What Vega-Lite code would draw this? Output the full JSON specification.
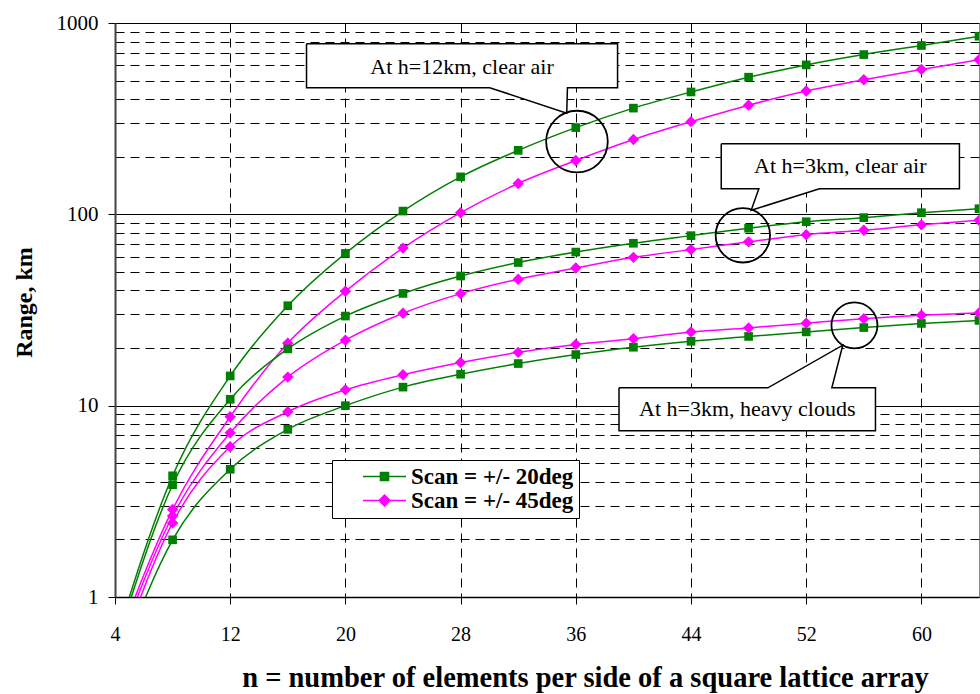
{
  "$schema": "https://vega.github.io/schema/vega-lite/v6.json",
  "autosize": {"type": "none"},
  "width": 864,
  "height": 574,
  "padding": {"left": 115, "top": 23, "right": 1, "bottom": 97},
  "background": "white",
  "config": {
    "font": "Liberation Serif",
    "view": {"stroke": "#888", "strokeWidth": 1}
  },
  "datasets": {
    "series": [
      {"n": 4, "v": 0.58, "series": "A", "scan": "Scan = +/- 20deg"},
      {"n": 8, "v": 4.30, "series": "A", "scan": "Scan = +/- 20deg"},
      {"n": 12, "v": 14.3, "series": "A", "scan": "Scan = +/- 20deg"},
      {"n": 16, "v": 33.3, "series": "A", "scan": "Scan = +/- 20deg"},
      {"n": 20, "v": 62.5, "series": "A", "scan": "Scan = +/- 20deg"},
      {"n": 24, "v": 104, "series": "A", "scan": "Scan = +/- 20deg"},
      {"n": 28, "v": 157, "series": "A", "scan": "Scan = +/- 20deg"},
      {"n": 32, "v": 216, "series": "A", "scan": "Scan = +/- 20deg"},
      {"n": 36, "v": 284, "series": "A", "scan": "Scan = +/- 20deg"},
      {"n": 40, "v": 359, "series": "A", "scan": "Scan = +/- 20deg"},
      {"n": 44, "v": 436, "series": "A", "scan": "Scan = +/- 20deg"},
      {"n": 48, "v": 521, "series": "A", "scan": "Scan = +/- 20deg"},
      {"n": 52, "v": 604, "series": "A", "scan": "Scan = +/- 20deg"},
      {"n": 56, "v": 684, "series": "A", "scan": "Scan = +/- 20deg"},
      {"n": 60, "v": 763, "series": "A", "scan": "Scan = +/- 20deg"},
      {"n": 64, "v": 853, "series": "A", "scan": "Scan = +/- 20deg"},
      {"n": 4, "v": 0.53, "series": "B", "scan": "Scan = +/- 45deg"},
      {"n": 8, "v": 2.87, "series": "B", "scan": "Scan = +/- 45deg"},
      {"n": 12, "v": 8.75, "series": "B", "scan": "Scan = +/- 45deg"},
      {"n": 16, "v": 21.2, "series": "B", "scan": "Scan = +/- 45deg"},
      {"n": 20, "v": 39.6, "series": "B", "scan": "Scan = +/- 45deg"},
      {"n": 24, "v": 66.6, "series": "B", "scan": "Scan = +/- 45deg"},
      {"n": 28, "v": 102, "series": "B", "scan": "Scan = +/- 45deg"},
      {"n": 32, "v": 145, "series": "B", "scan": "Scan = +/- 45deg"},
      {"n": 36, "v": 191, "series": "B", "scan": "Scan = +/- 45deg"},
      {"n": 40, "v": 246, "series": "B", "scan": "Scan = +/- 45deg"},
      {"n": 44, "v": 305, "series": "B", "scan": "Scan = +/- 45deg"},
      {"n": 48, "v": 372, "series": "B", "scan": "Scan = +/- 45deg"},
      {"n": 52, "v": 441, "series": "B", "scan": "Scan = +/- 45deg"},
      {"n": 56, "v": 505, "series": "B", "scan": "Scan = +/- 45deg"},
      {"n": 60, "v": 571, "series": "B", "scan": "Scan = +/- 45deg"},
      {"n": 64, "v": 643, "series": "B", "scan": "Scan = +/- 45deg"},
      {"n": 4, "v": 0.54, "series": "C", "scan": "Scan = +/- 20deg"},
      {"n": 8, "v": 3.86, "series": "C", "scan": "Scan = +/- 20deg"},
      {"n": 12, "v": 10.8, "series": "C", "scan": "Scan = +/- 20deg"},
      {"n": 16, "v": 19.8, "series": "C", "scan": "Scan = +/- 20deg"},
      {"n": 20, "v": 29.4, "series": "C", "scan": "Scan = +/- 20deg"},
      {"n": 24, "v": 38.6, "series": "C", "scan": "Scan = +/- 20deg"},
      {"n": 28, "v": 47.6, "series": "C", "scan": "Scan = +/- 20deg"},
      {"n": 32, "v": 56.0, "series": "C", "scan": "Scan = +/- 20deg"},
      {"n": 36, "v": 63.5, "series": "C", "scan": "Scan = +/- 20deg"},
      {"n": 40, "v": 70.6, "series": "C", "scan": "Scan = +/- 20deg"},
      {"n": 44, "v": 77.4, "series": "C", "scan": "Scan = +/- 20deg"},
      {"n": 48, "v": 84.6, "series": "C", "scan": "Scan = +/- 20deg"},
      {"n": 52, "v": 91.5, "series": "C", "scan": "Scan = +/- 20deg"},
      {"n": 56, "v": 96.1, "series": "C", "scan": "Scan = +/- 20deg"},
      {"n": 60, "v": 102, "series": "C", "scan": "Scan = +/- 20deg"},
      {"n": 64, "v": 107, "series": "C", "scan": "Scan = +/- 20deg"},
      {"n": 4, "v": 0.49, "series": "D", "scan": "Scan = +/- 45deg"},
      {"n": 8, "v": 2.65, "series": "D", "scan": "Scan = +/- 45deg"},
      {"n": 12, "v": 7.21, "series": "D", "scan": "Scan = +/- 45deg"},
      {"n": 16, "v": 14.1, "series": "D", "scan": "Scan = +/- 45deg"},
      {"n": 20, "v": 22.0, "series": "D", "scan": "Scan = +/- 45deg"},
      {"n": 24, "v": 30.4, "series": "D", "scan": "Scan = +/- 45deg"},
      {"n": 28, "v": 38.5, "series": "D", "scan": "Scan = +/- 45deg"},
      {"n": 32, "v": 45.8, "series": "D", "scan": "Scan = +/- 45deg"},
      {"n": 36, "v": 52.4, "series": "D", "scan": "Scan = +/- 45deg"},
      {"n": 40, "v": 59.6, "series": "D", "scan": "Scan = +/- 45deg"},
      {"n": 44, "v": 65.4, "series": "D", "scan": "Scan = +/- 45deg"},
      {"n": 48, "v": 71.8, "series": "D", "scan": "Scan = +/- 45deg"},
      {"n": 52, "v": 78.3, "series": "D", "scan": "Scan = +/- 45deg"},
      {"n": 56, "v": 82.5, "series": "D", "scan": "Scan = +/- 45deg"},
      {"n": 60, "v": 88.1, "series": "D", "scan": "Scan = +/- 45deg"},
      {"n": 64, "v": 93.0, "series": "D", "scan": "Scan = +/- 45deg"},
      {"n": 4, "v": 0.39, "series": "E", "scan": "Scan = +/- 20deg"},
      {"n": 8, "v": 1.99, "series": "E", "scan": "Scan = +/- 20deg"},
      {"n": 12, "v": 4.65, "series": "E", "scan": "Scan = +/- 20deg"},
      {"n": 16, "v": 7.52, "series": "E", "scan": "Scan = +/- 20deg"},
      {"n": 20, "v": 10.0, "series": "E", "scan": "Scan = +/- 20deg"},
      {"n": 24, "v": 12.5, "series": "E", "scan": "Scan = +/- 20deg"},
      {"n": 28, "v": 14.6, "series": "E", "scan": "Scan = +/- 20deg"},
      {"n": 32, "v": 16.6, "series": "E", "scan": "Scan = +/- 20deg"},
      {"n": 36, "v": 18.5, "series": "E", "scan": "Scan = +/- 20deg"},
      {"n": 40, "v": 20.2, "series": "E", "scan": "Scan = +/- 20deg"},
      {"n": 44, "v": 21.7, "series": "E", "scan": "Scan = +/- 20deg"},
      {"n": 48, "v": 23.0, "series": "E", "scan": "Scan = +/- 20deg"},
      {"n": 52, "v": 24.3, "series": "E", "scan": "Scan = +/- 20deg"},
      {"n": 56, "v": 25.6, "series": "E", "scan": "Scan = +/- 20deg"},
      {"n": 60, "v": 26.9, "series": "E", "scan": "Scan = +/- 20deg"},
      {"n": 64, "v": 27.9, "series": "E", "scan": "Scan = +/- 20deg"},
      {"n": 4, "v": 0.43, "series": "F", "scan": "Scan = +/- 45deg"},
      {"n": 8, "v": 2.44, "series": "F", "scan": "Scan = +/- 45deg"},
      {"n": 12, "v": 6.10, "series": "F", "scan": "Scan = +/- 45deg"},
      {"n": 16, "v": 9.29, "series": "F", "scan": "Scan = +/- 45deg"},
      {"n": 20, "v": 12.1, "series": "F", "scan": "Scan = +/- 45deg"},
      {"n": 24, "v": 14.5, "series": "F", "scan": "Scan = +/- 45deg"},
      {"n": 28, "v": 16.8, "series": "F", "scan": "Scan = +/- 45deg"},
      {"n": 32, "v": 19.0, "series": "F", "scan": "Scan = +/- 45deg"},
      {"n": 36, "v": 20.9, "series": "F", "scan": "Scan = +/- 45deg"},
      {"n": 40, "v": 22.4, "series": "F", "scan": "Scan = +/- 45deg"},
      {"n": 44, "v": 24.3, "series": "F", "scan": "Scan = +/- 45deg"},
      {"n": 48, "v": 25.5, "series": "F", "scan": "Scan = +/- 45deg"},
      {"n": 52, "v": 27.0, "series": "F", "scan": "Scan = +/- 45deg"},
      {"n": 56, "v": 28.5, "series": "F", "scan": "Scan = +/- 45deg"},
      {"n": 60, "v": 29.7, "series": "F", "scan": "Scan = +/- 45deg"},
      {"n": 64, "v": 30.5, "series": "F", "scan": "Scan = +/- 45deg"}
    ],
    "callouts": [
      {"box": "b1", "o": 1, "n": 17.3, "v": 778},
      {"box": "b1", "o": 2, "n": 38.9, "v": 778},
      {"box": "b1", "o": 3, "n": 38.9, "v": 459},
      {"box": "b1", "o": 4, "n": 35.42, "v": 459},
      {"box": "b1", "o": 5, "n": 35.37, "v": 338},
      {"box": "b1", "o": 6, "n": 30.02, "v": 459},
      {"box": "b1", "o": 7, "n": 17.3, "v": 459},
      {"box": "b1", "o": 8, "n": 17.3, "v": 778},
      {"box": "b2", "o": 1, "n": 46.1, "v": 234},
      {"box": "b2", "o": 2, "n": 62.64, "v": 234},
      {"box": "b2", "o": 3, "n": 62.64, "v": 136.2},
      {"box": "b2", "o": 4, "n": 52.92, "v": 136.2},
      {"box": "b2", "o": 5, "n": 48.18, "v": 105},
      {"box": "b2", "o": 6, "n": 48.71, "v": 136.2},
      {"box": "b2", "o": 7, "n": 46.1, "v": 136.2},
      {"box": "b2", "o": 8, "n": 46.1, "v": 234},
      {"box": "b3", "o": 1, "n": 39.0, "v": 12.39},
      {"box": "b3", "o": 2, "n": 49.34, "v": 12.39},
      {"box": "b3", "o": 3, "n": 54.54, "v": 20.7},
      {"box": "b3", "o": 4, "n": 53.78, "v": 12.39},
      {"box": "b3", "o": 5, "n": 56.81, "v": 12.39},
      {"box": "b3", "o": 6, "n": 56.81, "v": 7.39},
      {"box": "b3", "o": 7, "n": 39.0, "v": 7.39},
      {"box": "b3", "o": 8, "n": 39.0, "v": 12.39}
    ],
    "labels": [
      {"n": 28.1, "v": 590, "text": "At h=12km, clear air"},
      {"n": 54.37, "v": 178.5, "text": "At h=3km, clear air"},
      {"n": 47.91, "v": 9.56, "text": "At h=3km, heavy clouds"}
    ],
    "circles": [
      {"id": "c1", "n": 36.08, "v": 240},
      {"id": "c2", "n": 47.6, "v": 77.7},
      {"id": "c3", "n": 55.35, "v": 26.3}
    ]
  },
  "layer": [
    {
      "data": {"name": "series"},
      "mark": {"type": "line", "interpolate": "monotone", "strokeWidth": 1.5, "clip": true},
      "encoding": {
        "x": {
          "field": "n", "type": "quantitative",
          "scale": {"domain": [4, 64], "nice": false, "zero": false},
          "axis": {
            "values": [4, 12, 20, 28, 36, 44, 52, 60],
            "title": "n = number of elements per side of a square lattice array",
            "titleFont": "Liberation Serif", "titleFontSize": 28.5, "titleFontWeight": "bold", "titleColor": "black",
            "titleX": 470, "titleY": 89, "titleBaseline": "alphabetic", "titleAlign": "center",
            "labelFont": "Liberation Serif", "labelFontSize": 20, "labelColor": "black", "labelPadding": 20,
            "labelOverlap": false, "labelFlush": false,
            "tickSize": 7, "tickColor": "black", "tickWidth": 1,
            "domainColor": "black", "domainWidth": 1.5,
            "grid": true, "gridColor": "black", "gridDash": [9, 6], "gridWidth": 1
          }
        },
        "y": {
          "field": "v", "type": "quantitative",
          "scale": {"type": "log", "domain": [1, 1000], "nice": false},
          "axis": {
            "values": [1, 2, 3, 4, 5, 6, 7, 8, 9, 10, 20, 30, 40, 50, 60, 70, 80, 90, 100, 200, 300, 400, 500, 600, 700, 800, 900, 1000],
            "labelExpr": "(datum.value == 1 || datum.value == 10 || datum.value == 100 || datum.value == 1000) ? ('' + datum.value) : ''",
            "title": "Range, km",
            "titleFont": "Liberation Serif", "titleFontSize": 24, "titleFontWeight": "bold", "titleColor": "black",
            "titleX": -84, "titleY": 279, "titleBaseline": "alphabetic", "titleAlign": "center", "titleAngle": -90,
            "labelFont": "Liberation Serif", "labelFontSize": 21, "labelColor": "black", "labelPadding": 10,
            "labelOverlap": false, "labelFlush": false,
            "tickSize": 7, "tickColor": "black",
            "tickOpacity": {"condition": {"test": "datum.value == 1 || datum.value == 10 || datum.value == 100 || datum.value == 1000", "value": 1}, "value": 0},
            "domainColor": "#444", "domainWidth": 2,
            "grid": true, "gridColor": "black", "gridWidth": 1,
            "gridDash": {"condition": {"test": "datum.value == 1 || datum.value == 10 || datum.value == 100 || datum.value == 1000", "value": []}, "value": [9, 6]}
          }
        },
        "color": {
          "field": "scan", "type": "nominal",
          "scale": {"domain": ["Scan = +/- 20deg", "Scan = +/- 45deg"], "range": ["#008000", "#FF00FF"]},
          "legend": null
        },
        "detail": {"field": "series"}
      }
    },
    {
      "data": {"name": "series"},
      "mark": {"type": "point", "filled": true, "opacity": 1, "clip": true},
      "encoding": {
        "x": {"field": "n", "type": "quantitative"},
        "y": {"field": "v", "type": "quantitative"},
        "color": {"field": "scan", "type": "nominal", "scale": {"domain": ["Scan = +/- 20deg", "Scan = +/- 45deg"], "range": ["#008000", "#FF00FF"]}, "legend": null},
        "shape": {"field": "scan", "type": "nominal", "scale": {"domain": ["Scan = +/- 20deg", "Scan = +/- 45deg"], "range": ["square", "diamond"]}, "legend": null},
        "size": {"field": "scan", "type": "nominal", "scale": {"domain": ["Scan = +/- 20deg", "Scan = +/- 45deg"], "range": [75, 130]}, "legend": null}
      }
    },
    {
      "data": {"name": "series"},
      "transform": [{"filter": "false"}],
      "mark": {"type": "point", "filled": true, "opacity": 1},
      "encoding": {
        "x": {"field": "n", "type": "quantitative"},
        "y": {"field": "v", "type": "quantitative"},
        "color": {
          "field": "scan", "type": "nominal",
          "scale": {"domain": ["Scan = +/- 20deg", "Scan = +/- 45deg"], "range": ["#008000", "#FF00FF"]},
          "legend": {
            "orient": "none", "legendX": 217, "legendY": 437, "title": null, "direction": "vertical",
            "fillColor": "white", "strokeColor": "black", "padding": 5,
            "symbolOffset": 36, "symbolSize": 400,
            "labelOffset": 15, "labelFont": "Liberation Serif", "labelFontSize": 23, "labelFontWeight": "bold", "labelColor": "black",
            "rowPadding": 0, "labelLimit": 400
          }
        },
        "shape": {
          "field": "scan", "type": "nominal",
          "scale": {"domain": ["Scan = +/- 20deg", "Scan = +/- 45deg"], "range": ["M-2.15,-0.075H2.15V0.075H-2.15ZM-0.48,-0.48H0.48V0.48H-0.48Z", "M-2.15,-0.075H2.15V0.075H-2.15ZM0,-0.65L0.65,0L0,0.65L-0.65,0Z"]},
          "legend": {
            "orient": "none", "legendX": 217, "legendY": 437, "title": null, "direction": "vertical",
            "fillColor": "white", "strokeColor": "black", "padding": 5,
            "symbolOffset": 36, "symbolSize": 400,
            "labelOffset": 15, "labelFont": "Liberation Serif", "labelFontSize": 23, "labelFontWeight": "bold", "labelColor": "black",
            "rowPadding": 0, "labelLimit": 400
          }
        }
      }
    },
    {
      "data": {"name": "callouts"},
      "mark": {"type": "line", "interpolate": "linear", "stroke": "black", "strokeWidth": 1.5, "fill": "white", "clip": false},
      "encoding": {
        "x": {"field": "n", "type": "quantitative"},
        "y": {"field": "v", "type": "quantitative"},
        "detail": {"field": "box"},
        "order": {"field": "o", "type": "quantitative"}
      }
    },
    {
      "data": {"name": "labels"},
      "mark": {"type": "text", "font": "Liberation Serif", "fontSize": 22, "color": "black", "align": "center", "baseline": "middle"},
      "encoding": {
        "x": {"field": "n", "type": "quantitative"},
        "y": {"field": "v", "type": "quantitative"},
        "text": {"field": "text"}
      }
    },
    {
      "data": {"name": "circles"},
      "mark": {"type": "point", "shape": "circle", "filled": false, "stroke": "black", "strokeWidth": 1.8, "opacity": 1},
      "encoding": {
        "x": {"field": "n", "type": "quantitative"},
        "y": {"field": "v", "type": "quantitative"},
        "size": {"field": "id", "type": "nominal", "scale": {"domain": ["c1", "c2", "c3"], "range": [3800, 2116, 1936]}, "legend": null}
      }
    }
  ],
  "resolve": {"scale": {"size": "independent", "shape": "independent", "color": "independent"}}
}
